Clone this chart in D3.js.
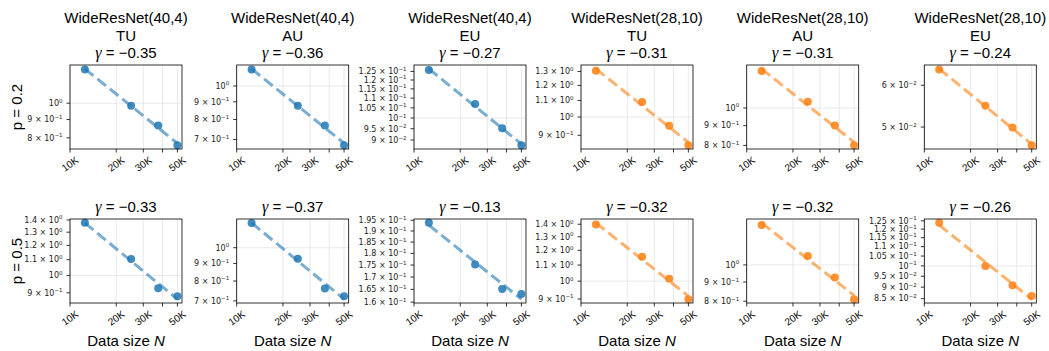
<!DOCTYPE html>
<html>
<head>
<meta charset="utf-8">
<script src="https://cdn.jsdelivr.net/npm/d3@7"></script>
<style>
	body { margin: 0; background: #fff; }
	svg { display: block; }
</style>
</head>
<body>
<script>
// -----DONNÉES-----
var models = ["WideResNet(40,4)", "WideResNet(40,4)", "WideResNet(40,4)", "WideResNet(28,10)", "WideResNet(28,10)", "WideResNet(28,10)"];
var methods = ["TU", "AU", "EU", "TU", "AU", "EU"];
var rowLabels = ["p = 0.2", "p = 0.5"];
var dataSizes = [12500, 25000, 37500, 50000];
var xTicks = [10000, 20000, 30000, 40000, 50000];
var xTickLabels = ["10K", "20K", "30K", "", "50K"];

var gammaP02 = [-0.35, -0.36, -0.27, -0.31, -0.31, -0.24];
var gammaP05 = [-0.33, -0.37, -0.13, -0.32, -0.32, -0.26];

// p = 0.2
var p02_wrn404_TU = [1.243, 0.983, 0.866, 0.763];
var p02_wrn404_AU = [1.117, 0.876, 0.769, 0.674];
var p02_wrn404_EU = [0.1259, 0.1069, 0.0952, 0.0878];
var p02_wrn2810_TU = [1.305, 1.09, 0.951, 0.850];
var p02_wrn2810_AU = [1.247, 1.038, 0.901, 0.801];
var p02_wrn2810_EU = [0.0643, 0.0549, 0.0499, 0.0462];
// p = 0.5
var p05_wrn404_TU = [1.376, 1.104, 0.925, 0.881];
var p05_wrn404_AU = [1.181, 0.929, 0.761, 0.722];
var p05_wrn404_EU = [0.1938, 0.1752, 0.1652, 0.1632];
var p05_wrn2810_TU = [1.397, 1.155, 1.014, 0.899];
var p05_wrn2810_AU = [1.278, 1.057, 0.925, 0.810];
var p05_wrn2810_EU = [0.1238, 0.1000, 0.0908, 0.0861];

// graduations y affichées
var yTicksP02 = [
	[1, 0.9, 0.8],
	[1, 0.9, 0.8, 0.7],
	[0.125, 0.12, 0.115, 0.11, 0.105, 0.1, 0.095, 0.09],
	[1.3, 1.2, 1.1, 1, 0.9],
	[1, 0.9, 0.8],
	[0.06, 0.05]
];
var yTicksP05 = [
	[1.4, 1.3, 1.2, 1.1, 1, 0.9],
	[1, 0.9, 0.8, 0.7],
	[0.195, 0.19, 0.185, 0.18, 0.175, 0.17, 0.165, 0.16],
	[1.4, 1.3, 1.2, 1.1, 1, 0.9],
	[1, 0.9, 0.8],
	[0.125, 0.12, 0.115, 0.11, 0.105, 0.1, 0.095, 0.09, 0.085]
];

// -----MISE EN PAGE-----
var width = 1049,
	height = 351;
var axLeft = [70, 236.7, 414, 581, 746.7, 924.3];
var rowTop = [65, 219];
var axW = 112,
	axH = 84;
var colors = ["#1f77b4", "#1f77b4", "#1f77b4", "#ff7f0e", "#ff7f0e", "#ff7f0e"];
var sansFont = "'Liberation Sans', Arial, sans-serif";
var mathFont = "'DejaVu Sans', sans-serif";

var rows = [
	{ label: rowLabels[0], gammas: gammaP02, ticks: yTicksP02,
		losses: [p02_wrn404_TU, p02_wrn404_AU, p02_wrn404_EU, p02_wrn2810_TU, p02_wrn2810_AU, p02_wrn2810_EU] },
	{ label: rowLabels[1], gammas: gammaP05, ticks: yTicksP05,
		losses: [p05_wrn404_TU, p05_wrn404_AU, p05_wrn404_EU, p05_wrn2810_TU, p05_wrn2810_AU, p05_wrn2810_EU] }
];

var svg = d3.select("body").append("svg")
	.attr("width", width)
	.attr("height", height)
	.style("font-family", sansFont);

// ajustement en loi de puissance (moindres carrés en log-log)
function fitPower(xs, ys) {
	var lx = xs.map(Math.log),
		ly = ys.map(Math.log);
	var mx = d3.mean(lx),
		my = d3.mean(ly);
	var b = d3.sum(lx, function (v, i) { return (v - mx) * (ly[i] - my); }) /
		d3.sum(lx, function (v) { return (v - mx) * (v - mx); });
	var a = my - b * mx;
	return function (x) { return Math.exp(a + b * Math.log(x)); };
}

function fmtNum(v) {
	return String(v).replace("-", "\u2212");
}

// x : gauche fixée à 10K, droite avec la marge de 5 % (log)
var xMin = d3.min(dataSizes),
	xMax = d3.max(dataSizes);
var x = d3.scaleLog()
	.domain([10000, xMax * Math.pow(xMax / xMin, 0.05)])
	.range([0, axW]);

rows.forEach(function (row, r) {
	row.losses.forEach(function (ys, c) {
		var g = svg.append("g")
			.attr("transform", "translate(" + axLeft[c] + "," + rowTop[r] + ")");

		var fit = fitPower(dataSizes, ys);
		var fitPts = [dataSizes[0], dataSizes[dataSizes.length - 1]].map(function (n) {
			return { n: n, v: fit(n) };
		});

		var all = ys.concat(fitPts.map(function (d) { return d.v; }));
		var lo = Math.log10(d3.min(all)),
			hi = Math.log10(d3.max(all)),
			pad = (hi - lo) * 0.05;
		var y = d3.scaleLog()
			.domain([Math.pow(10, lo - pad), Math.pow(10, hi + pad)])
			.range([axH, 0]);

		// grille
		g.selectAll(".gx").data(xTicks).enter().append("line")
			.attr("x1", function (d) { return x(d); })
			.attr("x2", function (d) { return x(d); })
			.attr("y1", 0).attr("y2", axH)
			.attr("stroke", "#e3e3e3").attr("stroke-width", 0.8);
		var majors = row.ticks[c].filter(function (d) {
			return Math.abs(Math.log10(d) - Math.round(Math.log10(d))) < 1e-9;
		});
		g.selectAll(".gy").data(majors).enter().append("line")
			.attr("x1", 0).attr("x2", axW)
			.attr("y1", function (d) { return y(d); })
			.attr("y2", function (d) { return y(d); })
			.attr("stroke", "#e3e3e3").attr("stroke-width", 0.8);

		// points
		g.selectAll("circle").data(ys).enter().append("circle")
			.attr("cx", function (d, i) { return x(dataSizes[i]); })
			.attr("cy", function (d) { return y(d); })
			.attr("r", 4)
			.attr("fill", colors[c])
			.attr("fill-opacity", 0.85);

		// droite ajustée
		var line = d3.line()
			.x(function (d) { return x(d.n); })
			.y(function (d) { return y(d.v); });
		g.append("path")
			.datum(fitPts)
			.attr("d", line)
			.attr("fill", "none")
			.attr("stroke", colors[c])
			.attr("stroke-opacity", 0.6)
			.attr("stroke-width", 3)
			.attr("stroke-dasharray", "11,5");

		// cadre
		g.append("rect")
			.attr("width", axW).attr("height", axH)
			.attr("fill", "none")
			.attr("stroke", "#000").attr("stroke-width", 0.8);

		// graduations x
		g.selectAll(".tx").data(xTicks).enter().append("line")
			.attr("x1", function (d) { return x(d); })
			.attr("x2", function (d) { return x(d); })
			.attr("y1", axH).attr("y2", axH + 3.5)
			.attr("stroke", "#000").attr("stroke-width", 0.8);
		g.selectAll(".lx").data(xTicks).enter().append("text")
			.attr("transform", function (d) {
				return "translate(" + x(d) + "," + (axH + 15) + ") rotate(-35)";
			})
			.attr("text-anchor", "middle")
			.attr("dy", "0.35em")
			.attr("font-size", 10)
			.text(function (d, i) { return xTickLabels[i]; });

		// graduations y
		g.selectAll(".ty").data(row.ticks[c]).enter().append("line")
			.attr("x1", -3.5).attr("x2", 0)
			.attr("y1", function (d) { return y(d); })
			.attr("y2", function (d) { return y(d); })
			.attr("stroke", "#000").attr("stroke-width", 0.8);
		row.ticks[c].forEach(function (v) {
			var e = Math.floor(Math.log10(v) + 1e-9);
			var m = +(v / Math.pow(10, e)).toFixed(2);
			var t = g.append("text")
				.attr("x", -7.5)
				.attr("y", y(v))
				.attr("dy", "0.35em")
				.attr("text-anchor", "end")
				.attr("font-family", mathFont)
				.attr("font-size", 8)
				.attr("fill", "#222");
			t.append("tspan").text((m === 1 ? "" : m + " \u00d7 ") + "10");
			t.append("tspan")
				.attr("font-size", 5.5)
				.attr("dy", -3.3)
				.text(fmtNum(e));
		});

		// titres
		var cx = axW / 2;
		if (r === 0) {
			g.append("text").attr("x", cx).attr("y", 23 - rowTop[r])
				.attr("text-anchor", "middle").attr("font-size", 15).text(models[c]);
			g.append("text").attr("x", cx).attr("y", 40.5 - rowTop[r])
				.attr("text-anchor", "middle").attr("font-size", 15).text(methods[c]);
		}
		var gt = g.append("text").attr("x", cx).attr("y", -6.7)
			.attr("text-anchor", "middle").attr("font-size", 15);
		gt.append("tspan")
			.attr("font-family", "'Liberation Serif', serif")
			.attr("font-style", "italic")
			.attr("font-size", 16)
			.text("\u03b3");
		gt.append("tspan").text(" = " + fmtNum(row.gammas[c].toFixed(2)));

		// étiquette x
		if (r === 1) {
			var xl = g.append("text").attr("x", cx).attr("y", 346 - rowTop[r])
				.attr("text-anchor", "middle").attr("font-size", 15);
			xl.append("tspan").text("Data size ");
			xl.append("tspan").attr("font-style", "italic").text("N");
		}
	});

	// étiquette de ligne
	svg.append("text")
		.attr("transform", "translate(22," + (rowTop[r] + axH / 2) + ") rotate(-90)")
		.attr("text-anchor", "middle")
		.attr("font-size", 15)
		.text(row.label);
});
</script>
</body>
</html>
